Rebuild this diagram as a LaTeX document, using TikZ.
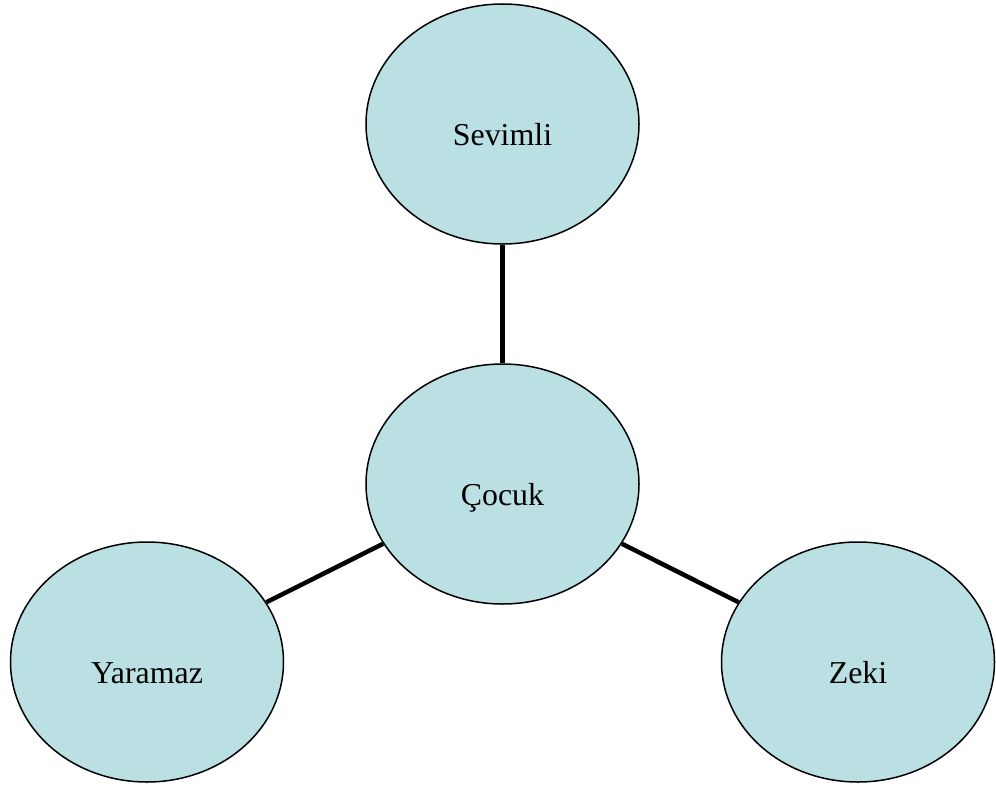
\documentclass[tikz,border=0pt]{standalone}
\usepackage{fontspec}
\setmainfont{Liberation Serif}
\usetikzlibrary{shapes.geometric}
\definecolor{bubble}{HTML}{BBE0E3}
\tikzset{
  bubblenode/.style={ellipse, draw=black, line width=1.5bp, fill=bubble,
    minimum width=273bp, minimum height=240bp, inner sep=0pt,
    text height=42bp, text depth=0bp,
    font=\fontsize{32}{36}\selectfont},
  link/.style={line width=4.5bp, draw=black}
}
\begin{document}
\begin{tikzpicture}[x=1bp,y=-1bp]
\useasboundingbox (0,0) rectangle (996,787);
\node[bubblenode] (sevimli) at (502.5,124) {Sevimli};
\node[bubblenode] (cocuk) at (502.5,484) {Çocuk};
\node[bubblenode] (yaramaz) at (147,662) {Yaramaz};
\node[bubblenode] (zeki) at (858,662) {Zeki};
\draw[link] (sevimli) -- (cocuk);
\draw[link] (cocuk) -- (yaramaz);
\draw[link] (cocuk) -- (zeki);
\end{tikzpicture}
\end{document}
